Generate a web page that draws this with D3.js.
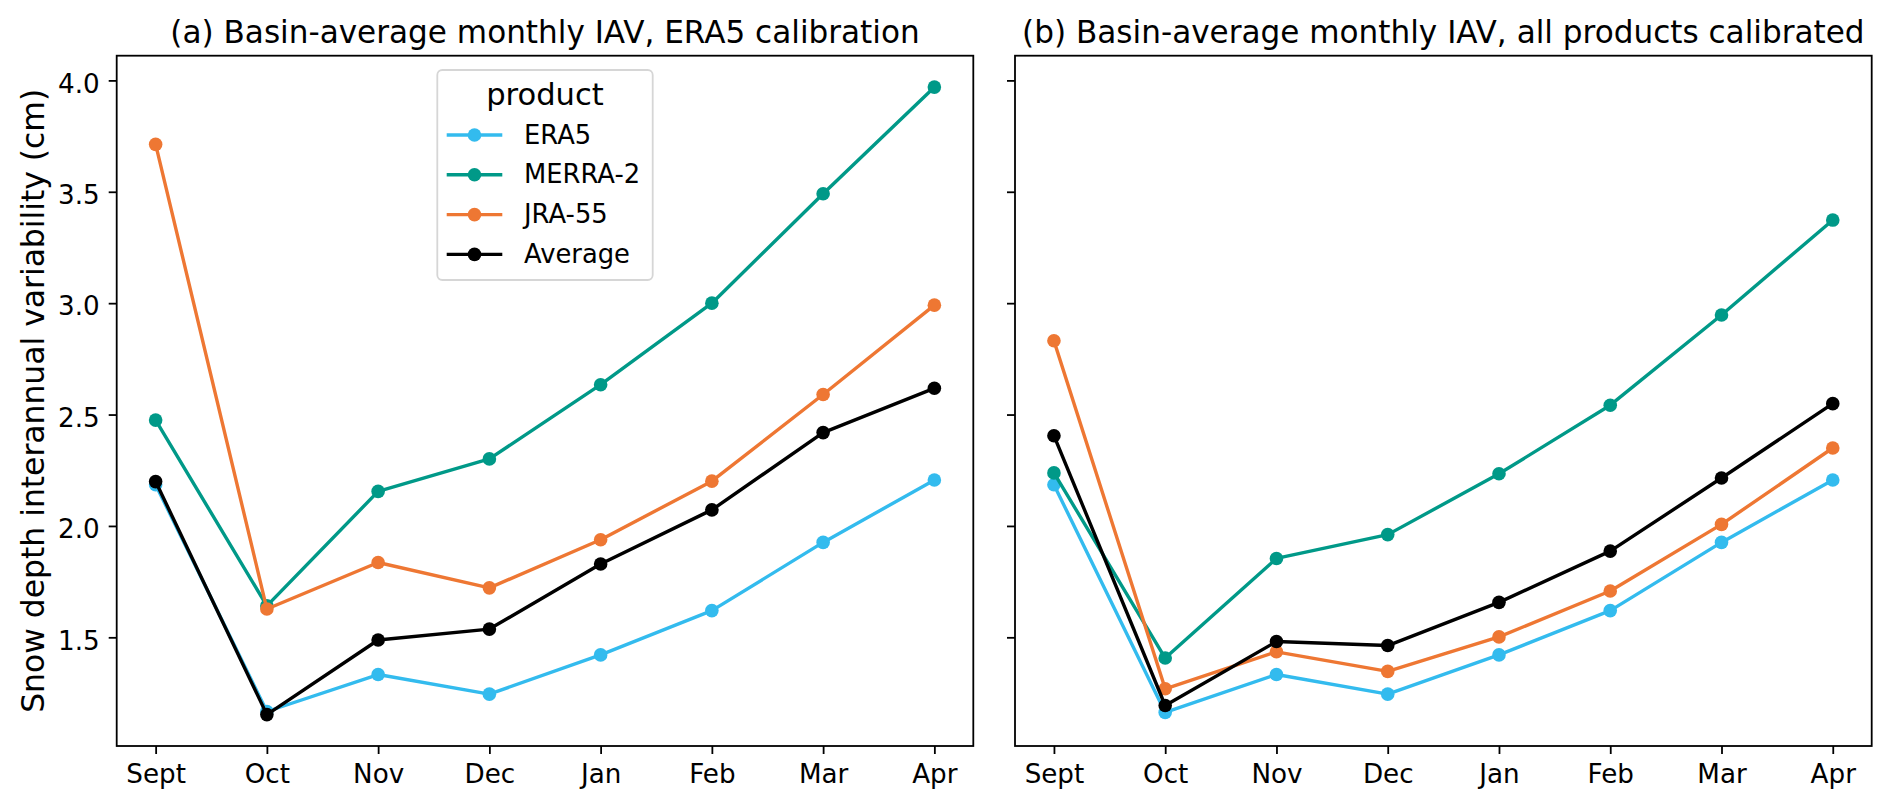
<!DOCTYPE html>
<html>
<head>
<meta charset="utf-8">
<script src="https://cdn.jsdelivr.net/npm/d3@7"></script>
<style>
    body { margin: 0; background: #fff; }
    text { font-family: "DejaVu Sans", sans-serif; fill: #000; }
</style>
</head>
<body>
<div id="chart"></div>
<script>
// Data
const months = ['Sept', 'Oct', 'Nov', 'Dec', 'Jan', 'Feb', 'Mar', 'Apr'];
const products = ['ERA5', 'MERRA-2', 'JRA-55', 'Average'];
const yTicks = [1.5, 2.0, 2.5, 3.0, 3.5, 4.0];

// (a) ERA5 calibration
const era5A   = [2.185, 1.167, 1.333, 1.245, 1.421, 1.620, 1.926, 2.206];
const merra2A = [2.475, 1.641, 2.155, 2.301, 2.634, 3.000, 3.491, 3.970];
const jra55A  = [3.713, 1.627, 1.836, 1.722, 1.938, 2.201, 2.590, 2.991];
const avgA    = [2.199, 1.153, 1.488, 1.537, 1.829, 2.072, 2.419, 2.618];

// (b) all products calibrated
const era5B   = [2.185, 1.163, 1.333, 1.245, 1.421, 1.620, 1.926, 2.206];
const merra2B = [2.238, 1.407, 1.854, 1.961, 2.234, 2.542, 2.947, 3.373];
const jra55B  = [2.831, 1.269, 1.435, 1.347, 1.502, 1.708, 2.007, 2.350];
const avgB    = [2.405, 1.194, 1.481, 1.463, 1.657, 1.887, 2.215, 2.549];

const titles = [
    '(a) Basin-average monthly IAV, ERA5 calibration',
    '(b) Basin-average monthly IAV, all products calibrated'
];
const yLabel = 'Snow depth interannual variability (cm)';

document.addEventListener("DOMContentLoaded", function() {
    const colors = ['#33bbee', '#009988', '#ee7733', '#000000'];
    const panels = [
        [era5A, merra2A, jra55A, avgA],
        [era5B, merra2B, jra55B, avgB]
    ];

    // Dimensions
    const W = 1892, H = 808;
    const top = 55.7, bottom = 746;
    const panelX = [[116.7, 973.3], [1015, 1871.7]];

    const svg = d3.select("#chart").append("svg")
        .attr("width", W)
        .attr("height", H)
        .style("display", "block");

    svg.append("rect").attr("width", W).attr("height", H).attr("fill", "#fff");

    // shared y scale, matplotlib-style 5% margins
    const all = panels.flat(2);
    const lo = d3.min(all), hi = d3.max(all);
    const pad = (hi - lo) * 0.05;
    const y = d3.scaleLinear()
        .domain([lo - pad, hi + pad])
        .range([bottom, top]);

    panels.forEach(function(series, p) {
        const x = d3.scalePoint()
            .domain(months)
            .range(panelX[p])
            .padding(0.35);

        const g = svg.append("g");

        // Axes
        const xAxis = g.append("g")
            .attr("transform", `translate(0,${bottom})`)
            .call(d3.axisBottom(x).tickSize(8).tickPadding(10));

        const yAxis = g.append("g")
            .attr("transform", `translate(${panelX[p][0]},0)`)
            .call(d3.axisLeft(y).tickValues(yTicks).tickSize(8).tickPadding(9)
                .tickFormat(p === 0 ? d3.format(".1f") : ""));

        [xAxis, yAxis].forEach(function(a) {
            a.select(".domain").remove();
            a.selectAll(".tick line").attr("stroke", "#000").attr("stroke-width", 1.8);
            a.selectAll(".tick text").style("font-size", "26.2px").attr("fill", "#000");
        });
        yAxis.selectAll(".tick text").attr("dy", "0.45em");

        // Lines and markers
        const line = d3.line()
            .x((d, i) => x(months[i]))
            .y(d => y(d));

        series.forEach(function(vals, k) {
            g.append("path")
                .datum(vals)
                .attr("d", line)
                .attr("fill", "none")
                .attr("stroke", colors[k])
                .attr("stroke-width", 3.4)
                .attr("stroke-linejoin", "round")
                .attr("stroke-linecap", "square");

            g.selectAll(null)
                .data(vals)
                .enter().append("circle")
                .attr("cx", (d, i) => x(months[i]))
                .attr("cy", d => y(d))
                .attr("r", 6.8)
                .attr("fill", colors[k]);
        });

        // Frame
        g.append("rect")
            .attr("x", panelX[p][0])
            .attr("y", top)
            .attr("width", panelX[p][1] - panelX[p][0])
            .attr("height", bottom - top)
            .attr("fill", "none")
            .attr("stroke", "#000")
            .attr("stroke-width", 1.8);

        // Title
        g.append("text")
            .attr("x", (panelX[p][0] + panelX[p][1]) / 2)
            .attr("y", 43.3)
            .attr("text-anchor", "middle")
            .style("font-size", "31.1px")
            .text(titles[p]);
    });

    // Y label
    svg.append("text")
        .attr("transform", `translate(43.5,${(top + bottom) / 2}) rotate(-90)`)
        .attr("text-anchor", "middle")
        .style("font-size", "31.4px")
        .text(yLabel);

    // Legend
    const leg = svg.append("g");
    leg.append("rect")
        .attr("x", 437.3).attr("y", 70)
        .attr("width", 215.4).attr("height", 210)
        .attr("rx", 5)
        .attr("fill", "#fff")
        .attr("fill-opacity", 0.8)
        .attr("stroke", "#d6d6d6")
        .attr("stroke-width", 1.8);

    leg.append("text")
        .attr("x", 545).attr("y", 105)
        .attr("text-anchor", "middle")
        .style("font-size", "30.6px")
        .text("product");

    const item = leg.selectAll(".item")
        .data(products)
        .enter().append("g")
        .attr("transform", (d, i) => `translate(0,${135 + i * 39.8})`);

    item.append("line")
        .attr("x1", 446.7).attr("x2", 502.3)
        .attr("stroke", (d, i) => colors[i])
        .attr("stroke-width", 3.4);

    item.append("circle")
        .attr("cx", 474.5)
        .attr("r", 6.8)
        .attr("fill", (d, i) => colors[i]);

    item.append("text")
        .attr("x", 524)
        .attr("dy", "0.33em")
        .style("font-size", "25.8px")
        .text(d => d);
});
</script>
</body>
</html>
